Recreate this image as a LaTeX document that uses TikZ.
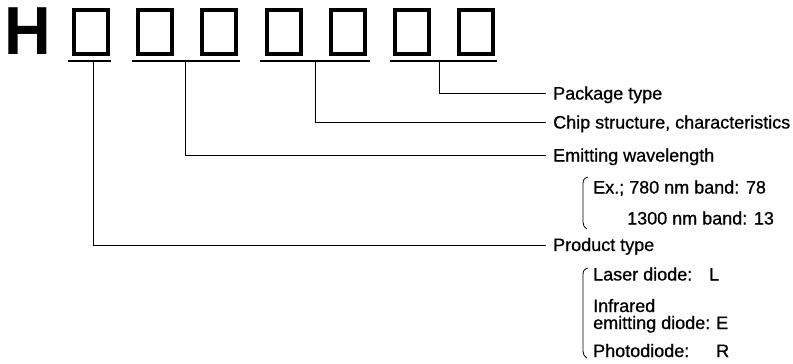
\documentclass[tikz,border=0pt]{standalone}
\usepackage{fontspec}
\setmainfont{Liberation Sans}
\newfontfamily\lblfont[FakeBold=0.8]{Liberation Sans}
\begin{document}
\begin{tikzpicture}[x=1pt,y=-1pt,
  digit/.style={draw,line width=4pt,minimum width=34pt,minimum height=44pt,inner sep=0pt,anchor=north west},
  uline/.style={line width=1.5pt},
  lead/.style={line width=1pt},
  lbl/.style={font=\lblfont\fontsize{18}{20}\selectfont,anchor=base west,inner sep=0pt},
  brace/.style={line width=0.8pt}]
\useasboundingbox (0,0) rectangle (793,364);
\node[font=\bfseries\fontsize{68}{70}\selectfont,anchor=base west,inner sep=0pt,xscale=0.95] (H) at (4,54) {H};
\foreach \i in {1,...,7}{
  \node[digit] (b\i) at ({72+64.2*(\i-1)},8) {};
}
% underlines
\draw[uline] (68,61) coordinate (u1a) -- (111,61) coordinate (u1b);
\draw[uline] (132,61) coordinate (u2a) -- (240,61) coordinate (u2b);
\draw[uline] (260,61) coordinate (u3a) -- (370,61) coordinate (u3b);
\draw[uline] (390,61) coordinate (u4a) -- (497,61) coordinate (u4b);
\coordinate (t1) at (93.5,61);
\coordinate (t2) at (185,61);
\coordinate (t3) at (315,61);
\coordinate (t4) at (439,61);
\coordinate (e4) at (546,93);
\coordinate (e3) at (546,122);
\coordinate (e2) at (546,155);
\coordinate (e1) at (546,245);
\draw[lead] (t4) |- (e4);
\draw[lead] (t3) |- (e3);
\draw[lead] (t2) |- (e2);
\draw[lead] (t1) |- (e1);
% labels
\node[lbl] (pk) at (553,99.5) {Package type};
\node[lbl] (cs) at (553,128.5) {Chip structure, characteristics};
\node[lbl] (ew) at (553,161.5) {Emitting wavelength};
\node[lbl] (ex1) at (593,193.5) {Ex.; 780 nm band: 78};
\node[lbl] (ex2) at (627,224.5) {1300 nm band: 13};
\node[lbl] (pt) at (553,251) {Product type};
\node[lbl] (ld) at (593,280.5) {Laser diode:};
\node[lbl] (ldv) at (709,280.5) {L};
\node[lbl] (ir1) at (593,312) {Infrared};
\node[lbl] (ir2) at (593,329) {emitting diode:};
\node[lbl] (irv) at (716,329) {E};
\node[lbl] (pd) at (593,357) {Photodiode:};
\node[lbl] (pdv) at (716,357) {R};
% brackets
\draw[brace] (588,177) .. controls (584,178) and (583,180) .. (583,184) -- (583,222) .. controls (583,225) and (584,227) .. (587,229);
\draw[brace] (588,268) .. controls (584,269) and (583,271) .. (583,275) -- (583,351) .. controls (583,354) and (584,356) .. (587,358);
\end{tikzpicture}
\end{document}
